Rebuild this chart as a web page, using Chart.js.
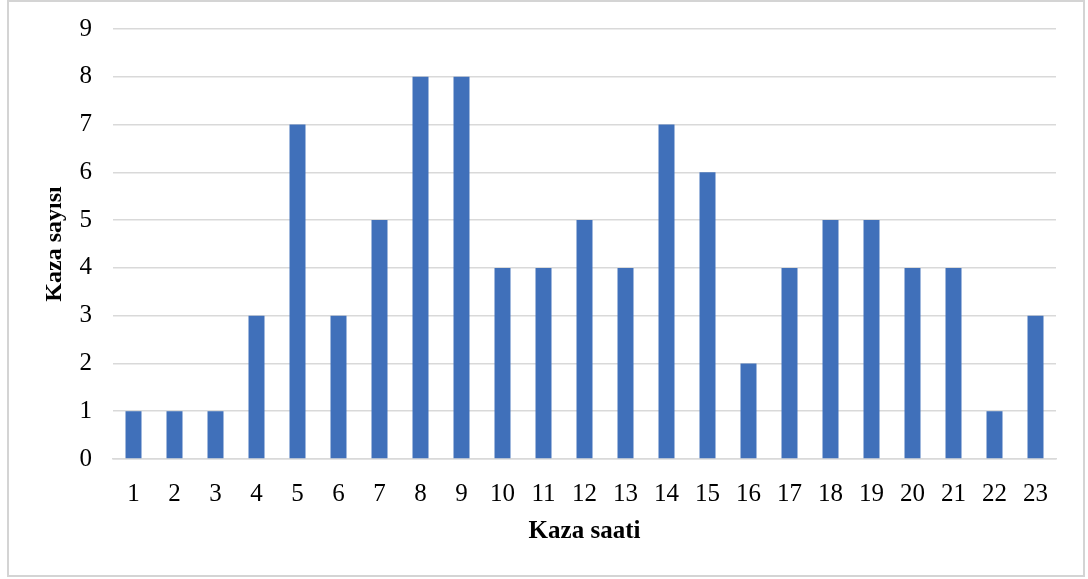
<!DOCTYPE html>
<html>
<head>
<meta charset="utf-8">
<script src="https://cdn.jsdelivr.net/npm/chart.js@4"></script>
<style>
  body { margin: 0; background: #fff; }
  #box { position: absolute; left: 7px; top: 0; width: 1074px; height: 573px; border: 2px solid #d4d4d4; }
  canvas { display: block; }
</style>
</head>
<body>
<div id="box"><canvas id="chart" width="1074" height="573"></canvas></div>
<script>
// accident hour vs count
const hours = ['1','2','3','4','5','6','7','8','9','10','11','12','13','14','15','16','17','18','19','20','21','22','23'];
const counts = [1, 1, 1, 3, 7, 3, 5, 8, 8, 4, 4, 5, 4, 7, 6, 2, 4, 5, 5, 4, 4, 1, 3];
const yTicks = [0, 1, 2, 3, 4, 5, 6, 7, 8, 9];

const serif = '"Liberation Serif", "Times New Roman", serif';

new Chart(document.getElementById('chart'), {
    type: 'bar',
    data: {
        labels: hours,
        datasets: [{
            data: counts,
            backgroundColor: '#4070BA',
            barPercentage: 0.39,
            categoryPercentage: 1
        }]
    },
    options: {
        responsive: false,
        animation: false,
        layout: { padding: { top: 27, right: 27, left: 0, bottom: 0 } },
        plugins: { legend: { display: false }, tooltip: { enabled: false } },
        scales: {
            x: {
                grid: { display: false },
                border: { display: true, color: '#d9d9d9', width: 1.5 },
                ticks: { color: '#000', font: { family: serif, size: 25 }, padding: 12, maxRotation: 0 },
                title: { display: true, text: 'Kaza saati', color: '#000',
                         font: { family: serif, size: 25, weight: 'bold' }, padding: { bottom: 28 } },
                afterFit: s => { s.height = 116; }
            },
            y: {
                min: 0,
                max: 9,
                afterBuildTicks: s => { s.ticks = yTicks.map(v => ({ value: v })); },
                grid: { color: '#d9d9d9', lineWidth: 1.5, drawTicks: false },
                border: { display: false },
                ticks: { color: '#000', font: { family: serif, size: 25, lineHeight: 0.5 }, padding: 21 },
                title: { display: true, text: 'Kaza sayısı', color: '#000',
                         font: { family: serif, size: 24, weight: 'bold' }, padding: { top: 31 } },
                // keep the plot top where the 9 gridline sits in the original
                afterFit: s => { s.width = 104; s.paddingTop = 0; s.paddingBottom = 0; }
            }
        }
    }
});
</script>
</body>
</html>
